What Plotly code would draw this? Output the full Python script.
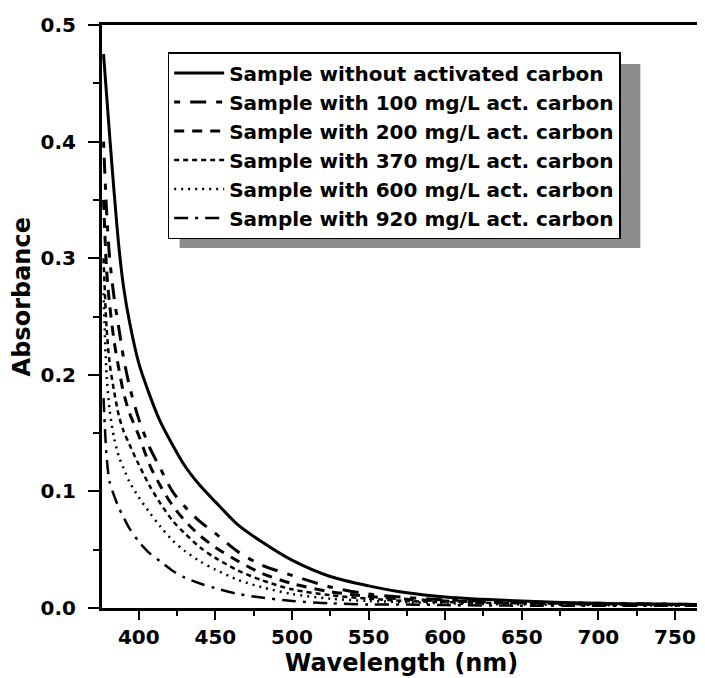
import plotly.graph_objects as go

wavelength = [377, 379, 381, 384, 387, 390, 394, 400, 407, 414, 422, 430, 440, 450,
              465, 480, 500, 525, 550, 575, 600, 650, 700, 767]

abs_none = [0.475, 0.44, 0.405, 0.355, 0.31, 0.276, 0.245, 0.21, 0.183, 0.16, 0.14, 0.122, 0.105, 0.091,
            0.071, 0.057, 0.041, 0.027, 0.019, 0.013, 0.0095, 0.006, 0.004, 0.003]
abs_100 = [0.40, 0.34, 0.30, 0.265, 0.24, 0.215, 0.19, 0.162, 0.138, 0.12, 0.10, 0.087, 0.074, 0.064,
           0.048, 0.037, 0.028, 0.018, 0.012, 0.009, 0.007, 0.005, 0.004, 0.003]
abs_200 = [0.35, 0.29, 0.26, 0.228, 0.205, 0.185, 0.167, 0.148, 0.123, 0.105, 0.088, 0.075, 0.062, 0.052,
           0.040, 0.030, 0.021, 0.014, 0.010, 0.0075, 0.006, 0.0045, 0.0035, 0.003]
abs_370 = [0.30, 0.24, 0.21, 0.185, 0.165, 0.152, 0.14, 0.123, 0.105, 0.09, 0.075, 0.064, 0.052, 0.043,
           0.032, 0.024, 0.016, 0.011, 0.008, 0.006, 0.005, 0.004, 0.003, 0.0025]
abs_600 = [0.27, 0.20, 0.17, 0.145, 0.13, 0.12, 0.108, 0.095, 0.082, 0.07, 0.058, 0.049, 0.040, 0.033,
           0.024, 0.018, 0.012, 0.008, 0.006, 0.005, 0.004, 0.003, 0.0025, 0.002]
abs_920 = [0.18, 0.13, 0.108, 0.096, 0.086, 0.078, 0.068, 0.057, 0.047, 0.040, 0.032, 0.026, 0.021, 0.017,
           0.012, 0.009, 0.006, 0.004, 0.003, 0.003, 0.0025, 0.002, 0.002, 0.002]

series_names = [
    "Sample without activated carbon",
    "Sample with 100 mg/L act. carbon",
    "Sample with 200 mg/L act. carbon",
    "Sample with 370 mg/L act. carbon",
    "Sample with 600 mg/L act. carbon",
    "Sample with 920 mg/L act. carbon",
]
series_values = [abs_none, abs_100, abs_200, abs_370, abs_600, abs_920]
dash_styles = ["solid", "6px,10px,16px,10px", "10px,8px", "5px,4px", "2px,5px", "14px,7px,3px,7px"]
line_widths = [3, 3, 3, 2.5, 2.5, 2.5]

x_ticks = [400, 450, 500, 550, 600, 650, 700, 750]
y_ticks = [0.0, 0.1, 0.2, 0.3, 0.4, 0.5]

FONT = "DejaVu Sans"

fig = go.Figure()
for name, vals, dash, lw in zip(series_names, series_values, dash_styles, line_widths):
    fig.add_trace(go.Scatter(
        x=wavelength, y=vals, mode="lines", name=name,
        line=dict(color="black", width=lw, dash=dash, shape="spline", smoothing=0.8),
    ))

axis_common = dict(
    showline=True, linecolor="black", linewidth=3, mirror=True,
    ticks="outside", tickcolor="black", tickwidth=2,
    showgrid=False, zeroline=False,
    tickfont=dict(family=FONT, size=20, color="black", weight="bold"),
)

fig.update_xaxes(
    range=[376, 767], tickvals=x_ticks, ticklen=9,
    minor=dict(dtick=25, tick0=375, ticks="outside", ticklen=5, tickcolor="black", tickwidth=2),
    title=dict(text="Wavelength (nm)", font=dict(family=FONT, size=24, color="black", weight="bold"), standoff=4),
    **axis_common,
)
fig.update_yaxes(
    range=[0, 0.5], tickvals=y_ticks, tickformat=".1f", ticklen=11, ticklabelstandoff=8,
    minor=dict(dtick=0.05, tick0=0, ticks="outside", ticklen=6, tickcolor="black", tickwidth=2),
    **axis_common,
)

# y-axis title (placed slightly above the plot centre, as in the original)
fig.add_annotation(
    text="Absorbance", xref="paper", yref="paper",
    x=(22 - 102) / 602, y=(608 - 297) / 583, xanchor="center", yanchor="middle",
    textangle=-90, showarrow=False,
    font=dict(family=FONT, size=24, color="black", weight="bold"),
)

# legend shadow
fig.add_shape(type="rect", xref="paper", yref="paper",
              x0=(180 - 102) / 602, x1=(643 - 102) / 602,
              y0=(608 - 248) / 583, y1=(608 - 64) / 583,
              fillcolor="#8c8c8c", line=dict(width=0), layer="below")

# the page body adds an 8px offset, so the figure is 8px smaller and margins shifted
fig.update_layout(
    width=697, height=670,
    margin=dict(l=94, r=1, t=17, b=70),
    paper_bgcolor="white", plot_bgcolor="white",
    showlegend=True,
    legend=dict(
        x=(168 - 102) / 602, y=(608 - 52) / 583, xanchor="left", yanchor="top",
        bgcolor="white", bordercolor="black", borderwidth=1.5,
        font=dict(family=FONT, size=20, color="black", weight="bold"),
        itemwidth=50, tracegroupgap=0,
    ),
)

fig.write_html("out.html")
